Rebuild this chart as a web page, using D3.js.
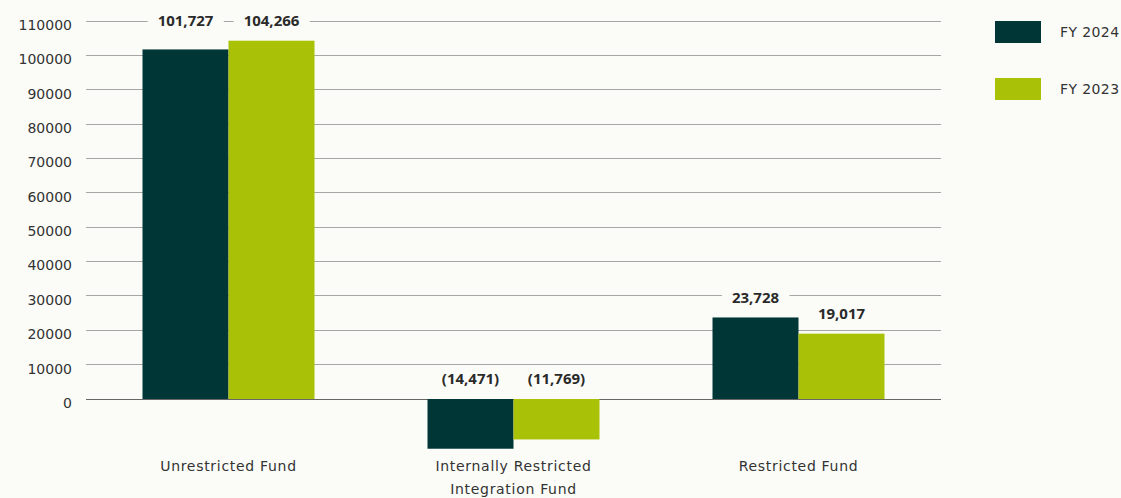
<!DOCTYPE html>
<html><head><meta charset="utf-8">
<script src="https://cdn.jsdelivr.net/npm/d3@7/dist/d3.min.js"></script>
<style>
html,body{margin:0;padding:0;background:#fbfcf8;}
svg{display:block;font-family:"DejaVu Sans",sans-serif;}
</style></head><body>
<svg id="c" width="1121" height="498"></svg>
<script>
const categories = [["Unrestricted Fund"], ["Internally Restricted", "Integration Fund"], ["Restricted Fund"]];
const seriesNames = ["FY 2024", "FY 2023"];
const fy2024 = [101727, -14471, 23728];
const fy2023 = [104266, -11769, 19017];
const valueLabels2024 = ["101,727", "(14,471)", "23,728"];
const valueLabels2023 = ["104,266", "(11,769)", "19,017"];
const yTicks = [0,10000,20000,30000,40000,50000,60000,70000,80000,90000,100000,110000];
const colors = ["#013636", "#a9c207"];

const svg = d3.select("#c");
const left = 86, right = 941;
const x = d3.scaleBand().domain(d3.range(categories.length)).range([left, right]);
const xs = d3.scaleBand().domain([0,1]).range([0, 172]);
const y = d3.scaleLinear().domain([0, 110000]).range([399, 21]);

// gridlines
svg.append("g").selectAll("line").data(yTicks).join("line")
  .attr("x1", left).attr("x2", right)
  .attr("y1", d => y(d)).attr("y2", d => y(d))
  .attr("stroke", d => d === 0 ? "#666" : "#a6a6a6").attr("stroke-width", 1)
  .attr("shape-rendering", "crispEdges");

// y labels
svg.append("g").selectAll("text").data(yTicks).join("text")
  .attr("x", 72).attr("y", d => y(d) + 4).attr("dy", "0.35em")
  .attr("text-anchor", "end").attr("font-size", 14).attr("fill", "#333")
  .text(d => d);

const series = [fy2024, fy2023];
const labels = [valueLabels2024, valueLabels2023];
series.forEach((vals, si) => {
  svg.append("g").selectAll("rect").data(vals).join("rect")
    .attr("x", (d, i) => x(i) + x.bandwidth()/2 - 86 + xs(si))
    .attr("width", xs.bandwidth())
    .attr("y", d => y(Math.max(d, 0)))
    .attr("height", d => Math.abs(y(d) - y(0)))
    .attr("fill", colors[si]);
});

// value labels with background
const topY = y(d3.max(yTicks));
series.forEach((vals, si) => {
  vals.forEach((d, i) => {
    const cx = x(i) + x.bandwidth()/2 - 86 + xs(si) + xs.bandwidth()/2;
    let cy = y(Math.max(d, 0)) - 20;
    if (cy < topY + 12) cy = topY;
    const g = svg.append("g");
    const t = g.append("text").attr("x", cx).attr("y", cy).attr("dy", "0.36em")
      .attr("text-anchor", "middle").attr("font-size", 15).attr("font-weight", "bold")
      .attr("font-family", "'Open Sans', sans-serif")
      .attr("fill", "#2a2a2a").text(labels[si][i]);
    const bb = t.node().getBBox();
    g.insert("rect", "text").attr("x", bb.x - 10).attr("y", bb.y + 2)
      .attr("width", bb.width + 20).attr("height", bb.height - 4).attr("fill", "#fbfcf8");
  });
});

// category labels
const cl = svg.append("g").selectAll("text").data(categories).join("text")
  .attr("x", (d, i) => x(i) + x.bandwidth()/2).attr("y", 466)
  .attr("text-anchor", "middle").attr("font-size", 14).attr("fill", "#333")
  .attr("letter-spacing", "0.7px");
cl.selectAll("tspan").data(d => d).join("tspan")
  .attr("x", function(){ return this.parentNode.getAttribute("x"); })
  .attr("dy", (d, j) => j === 0 ? "0.35em" : 23).text(d => d);

// legend
const lg = svg.append("g").selectAll("g").data(seriesNames).join("g")
  .attr("transform", (d, i) => `translate(995,${21 + i*57})`);
lg.append("rect").attr("width", 46).attr("height", 22).attr("fill", (d, i) => colors[i]);
lg.append("text").attr("x", 65).attr("y", 11).attr("dy", "0.35em")
  .attr("font-size", 14).attr("fill", "#333").attr("letter-spacing", "0.4px").text(d => d);
</script>
</body></html>
